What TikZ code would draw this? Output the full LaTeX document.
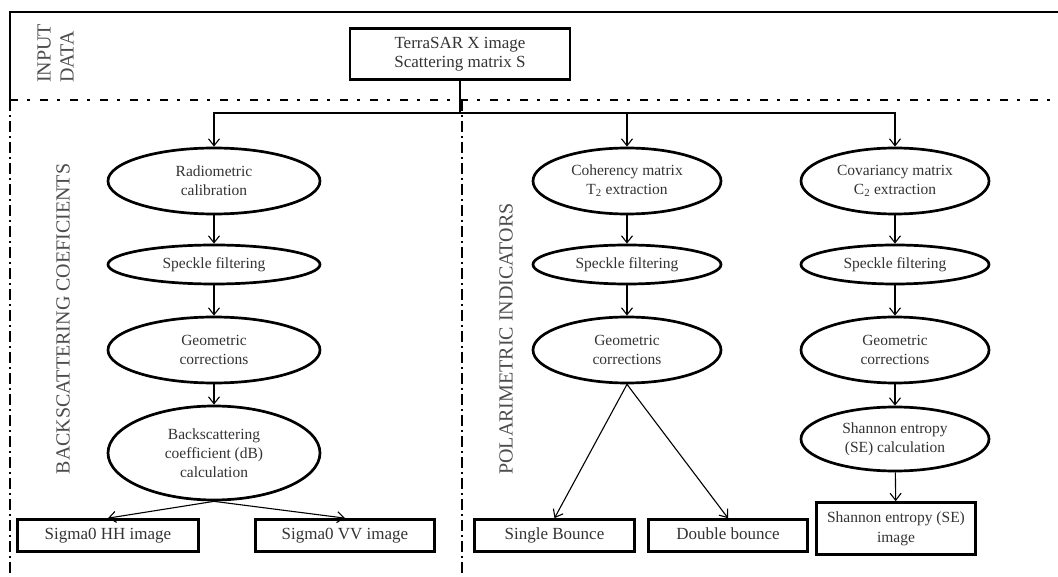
\documentclass[tikz,border=0pt]{standalone}
\usepackage{fontspec}
\setmainfont{Liberation Serif}
\usetikzlibrary{arrows.meta,shapes.geometric}
\begin{document}
\begin{tikzpicture}[x=1pt,y=-1pt,
 ell/.style={ellipse,draw,line width=2.7pt,inner sep=0pt,align=center,text=black!80,font=\fontsize{15.5}{19}\selectfont},
 box/.style={rectangle,draw,line width=2.7pt,inner sep=0pt,align=center,text=black!80,font=\fontsize{17}{20}\selectfont},
 arr/.style={line width=1.1pt,-{Straight Barb[length=7pt,width=11pt]}},
 lbl/.style={rotate=90,text=black!70,font=\fontsize{20}{23}\selectfont,inner sep=0pt},
 dd/.style={line width=2.8pt,dash pattern=on 8pt off 9pt on 3pt off 10pt},
 dv/.style={line width=2pt,dash pattern=on 11pt off 4pt on 2pt off 4pt}
]
\useasboundingbox (0,0) rectangle (1058,577);

% frame and section dividers
\coordinate (tl) at (10,12);
\coordinate (tr) at (1058,12);
\coordinate (ml) at (10,100);
\coordinate (mr) at (1058,100);
\coordinate (bl) at (10,577);
\coordinate (dtop) at (462,100);
\coordinate (dbot) at (462,577);
\draw[line width=2.6pt] (ml) -- (tl) -- (tr);
\draw[dd] (ml) -- (mr);
\draw[dv,line width=2.5pt] (ml) -- (bl);
\draw[dv] (dtop) -- (dbot);

% section labels
\node[lbl,anchor=west,align=left] (inp) at (55.5,83) {INPUT\\DATA};
\node[lbl] (lbb) at (63,319) {BACKSCATTERING COEFICIENTS};
\node[lbl] (lbp) at (506,339) {POLARIMETRIC INDICATORS};

% source
\node[box,minimum width=220pt,minimum height=51pt,font=\fontsize{17}{19}\selectfont] (src) at (460,54) {TerraSAR X image\\Scattering matrix S};
\coordinate (bus) at (460,113);

% left column
\node[ell,minimum width=212pt,minimum height=66pt] (rad) at (214,181) {Radiometric\\calibration};
\node[ell,minimum width=212pt,minimum height=39pt] (spk1) at (214,264.5) {Speckle filtering};
\node[ell,minimum width=212pt,minimum height=66pt] (geo1) at (214,350) {Geometric\\corrections};
\node[ell,minimum width=212pt,minimum height=94pt] (bsc) at (214,453) {Backscattering\\coefficient (dB)\\calculation};
\node[box,minimum width=181pt,minimum height=32pt] (hh) at (108,535.5) {Sigma0 HH image\strut};
\node[box,minimum width=179pt,minimum height=32pt] (vv) at (345,535.5) {Sigma0 VV image\strut};

% middle column
\node[ell,minimum width=188pt,minimum height=66pt] (coh) at (627,181) {Coherency matrix\\T\textsubscript{2} extraction};
\node[ell,minimum width=188pt,minimum height=39pt] (spk2) at (627,264.5) {Speckle filtering};
\node[ell,minimum width=188pt,minimum height=66pt] (geo2) at (627,350) {Geometric\\corrections};
\node[box,minimum width=160pt,minimum height=32pt] (sgl) at (554.5,535.5) {Single Bounce\strut};
\node[box,minimum width=159pt,minimum height=32pt] (dbl) at (728,535.5) {Double bounce\strut};

% right column
\node[ell,minimum width=188pt,minimum height=66pt] (cov) at (895,181) {Covariancy matrix\\C\textsubscript{2} extraction};
\node[ell,minimum width=188pt,minimum height=39pt] (spk3) at (895,264.5) {Speckle filtering};
\node[ell,minimum width=188pt,minimum height=66pt] (geo3) at (895,350) {Geometric\\corrections};
\node[ell,minimum width=188pt,minimum height=64pt] (sha) at (895,439) {Shannon entropy\\(SE) calculation};
\node[box,minimum width=159pt,minimum height=52pt,font=\fontsize{15.5}{20}\selectfont] (shi) at (896,528.5) {Shannon entropy (SE)\\image};

% connectors
\draw[line width=1.1pt] (src) -- (bus);
\draw[arr] (bus) -| (rad);
\draw[arr] (bus) -| (coh);
\draw[arr] (bus) -| (cov);

\draw[arr] (rad) -- (spk1);
\draw[arr] (spk1) -- (geo1);
\draw[arr] (geo1) -- (bsc);
\draw[arr] (bsc.south) -- (hh.north);
\draw[arr] (bsc.south) -- (vv.north);

\draw[arr] (coh) -- (spk2);
\draw[arr] (spk2) -- (geo2);
\draw[arr] (geo2.south) -- (sgl.north);
\draw[arr] (geo2.south) -- (dbl.north);

\draw[arr] (cov) -- (spk3);
\draw[arr] (spk3) -- (geo3);
\draw[arr] (geo3) -- (sha);
\draw[arr] (sha) -- (shi);
\end{tikzpicture}
\end{document}
